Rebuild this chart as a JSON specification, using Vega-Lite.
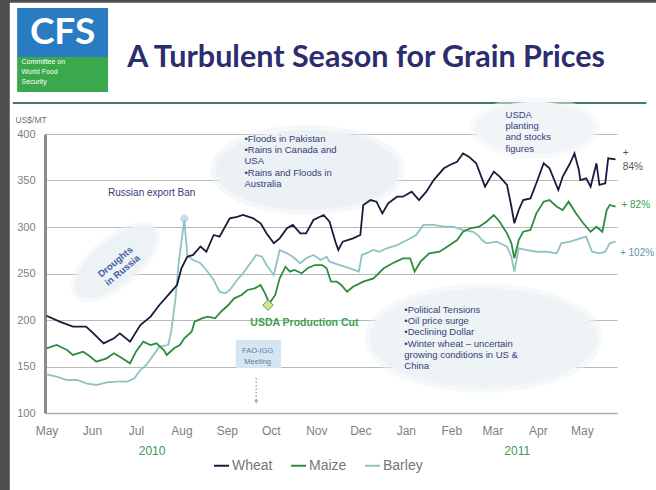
{
  "$schema": "https://vega.github.io/schema/vega-lite/v6.json",
  "width": 572,
  "height": 279,
  "autosize": {"type": "none"},
  "padding": {"left": 45, "top": 134, "right": 39, "bottom": 77},
  "background": "white",
  "config": {"view": {"stroke": null}, "font": "Liberation Sans"},
  "datasets": {
    "prices": [
      {"grain": "Barley", "date": "2010-05-01", "value": 141.6},
      {"grain": "Barley", "date": "2010-05-08", "value": 139},
      {"grain": "Barley", "date": "2010-05-15", "value": 135.5},
      {"grain": "Barley", "date": "2010-05-22", "value": 135.5},
      {"grain": "Barley", "date": "2010-05-28", "value": 131.9},
      {"grain": "Barley", "date": "2010-06-04", "value": 130.1},
      {"grain": "Barley", "date": "2010-06-11", "value": 133},
      {"grain": "Barley", "date": "2010-06-18", "value": 133.7},
      {"grain": "Barley", "date": "2010-06-25", "value": 133.7},
      {"grain": "Barley", "date": "2010-06-30", "value": 137.3},
      {"grain": "Barley", "date": "2010-07-04", "value": 146.2},
      {"grain": "Barley", "date": "2010-07-08", "value": 151.6},
      {"grain": "Barley", "date": "2010-07-13", "value": 162.4},
      {"grain": "Barley", "date": "2010-07-17", "value": 171.3},
      {"grain": "Barley", "date": "2010-07-23", "value": 173.1},
      {"grain": "Barley", "date": "2010-07-25", "value": 187.4},
      {"grain": "Barley", "date": "2010-07-28", "value": 223.3},
      {"grain": "Barley", "date": "2010-07-30", "value": 259.1},
      {"grain": "Barley", "date": "2010-08-01", "value": 284.2},
      {"grain": "Barley", "date": "2010-08-03", "value": 307.5},
      {"grain": "Barley", "date": "2010-08-05", "value": 270},
      {"grain": "Barley", "date": "2010-08-06", "value": 268},
      {"grain": "Barley", "date": "2010-08-09", "value": 264.5},
      {"grain": "Barley", "date": "2010-08-14", "value": 261},
      {"grain": "Barley", "date": "2010-08-18", "value": 253.8},
      {"grain": "Barley", "date": "2010-08-23", "value": 243},
      {"grain": "Barley", "date": "2010-08-27", "value": 230.4},
      {"grain": "Barley", "date": "2010-08-31", "value": 228.7},
      {"grain": "Barley", "date": "2010-09-03", "value": 232.3},
      {"grain": "Barley", "date": "2010-09-08", "value": 243},
      {"grain": "Barley", "date": "2010-09-12", "value": 250.2},
      {"grain": "Barley", "date": "2010-09-17", "value": 261},
      {"grain": "Barley", "date": "2010-09-21", "value": 269.9},
      {"grain": "Barley", "date": "2010-09-25", "value": 268},
      {"grain": "Barley", "date": "2010-09-28", "value": 259.1},
      {"grain": "Barley", "date": "2010-10-03", "value": 248.4},
      {"grain": "Barley", "date": "2010-10-07", "value": 275.3},
      {"grain": "Barley", "date": "2010-10-12", "value": 271.7},
      {"grain": "Barley", "date": "2010-10-16", "value": 268},
      {"grain": "Barley", "date": "2010-10-21", "value": 261},
      {"grain": "Barley", "date": "2010-10-25", "value": 266.3},
      {"grain": "Barley", "date": "2010-10-30", "value": 269.9},
      {"grain": "Barley", "date": "2010-11-04", "value": 264.5},
      {"grain": "Barley", "date": "2010-11-08", "value": 268},
      {"grain": "Barley", "date": "2010-11-10", "value": 262.7},
      {"grain": "Barley", "date": "2010-11-17", "value": 259.1},
      {"grain": "Barley", "date": "2010-11-24", "value": 255.6},
      {"grain": "Barley", "date": "2010-11-30", "value": 252},
      {"grain": "Barley", "date": "2010-12-02", "value": 269.9},
      {"grain": "Barley", "date": "2010-12-05", "value": 271.7},
      {"grain": "Barley", "date": "2010-12-10", "value": 275.3},
      {"grain": "Barley", "date": "2010-12-14", "value": 273.4},
      {"grain": "Barley", "date": "2010-12-19", "value": 277.1},
      {"grain": "Barley", "date": "2010-12-26", "value": 280.6},
      {"grain": "Barley", "date": "2011-01-02", "value": 286},
      {"grain": "Barley", "date": "2011-01-08", "value": 291.4},
      {"grain": "Barley", "date": "2011-01-13", "value": 302.2},
      {"grain": "Barley", "date": "2011-01-20", "value": 302.2},
      {"grain": "Barley", "date": "2011-01-27", "value": 300.3},
      {"grain": "Barley", "date": "2011-02-02", "value": 300.3},
      {"grain": "Barley", "date": "2011-02-09", "value": 296.8},
      {"grain": "Barley", "date": "2011-02-16", "value": 294.9},
      {"grain": "Barley", "date": "2011-02-19", "value": 291.4},
      {"grain": "Barley", "date": "2011-02-22", "value": 286},
      {"grain": "Barley", "date": "2011-02-25", "value": 282.5},
      {"grain": "Barley", "date": "2011-03-04", "value": 284.2},
      {"grain": "Barley", "date": "2011-03-11", "value": 278.9},
      {"grain": "Barley", "date": "2011-03-14", "value": 268},
      {"grain": "Barley", "date": "2011-03-16", "value": 252},
      {"grain": "Barley", "date": "2011-03-19", "value": 277.1},
      {"grain": "Barley", "date": "2011-03-24", "value": 275.3},
      {"grain": "Barley", "date": "2011-03-31", "value": 273.4},
      {"grain": "Barley", "date": "2011-04-07", "value": 273.4},
      {"grain": "Barley", "date": "2011-04-14", "value": 271.7},
      {"grain": "Barley", "date": "2011-04-17", "value": 282.5},
      {"grain": "Barley", "date": "2011-04-23", "value": 284.2},
      {"grain": "Barley", "date": "2011-04-30", "value": 287.8},
      {"grain": "Barley", "date": "2011-05-04", "value": 289.6},
      {"grain": "Barley", "date": "2011-05-08", "value": 273.4},
      {"grain": "Barley", "date": "2011-05-13", "value": 271.7},
      {"grain": "Barley", "date": "2011-05-17", "value": 273.4},
      {"grain": "Barley", "date": "2011-05-20", "value": 282.5},
      {"grain": "Barley", "date": "2011-05-24", "value": 284.2},
      {"grain": "Maize", "date": "2010-05-01", "value": 169.6},
      {"grain": "Maize", "date": "2010-05-08", "value": 173.1},
      {"grain": "Maize", "date": "2010-05-15", "value": 167.7},
      {"grain": "Maize", "date": "2010-05-19", "value": 162.4},
      {"grain": "Maize", "date": "2010-05-26", "value": 165.9},
      {"grain": "Maize", "date": "2010-05-31", "value": 160.5},
      {"grain": "Maize", "date": "2010-06-04", "value": 155.2},
      {"grain": "Maize", "date": "2010-06-11", "value": 158.8},
      {"grain": "Maize", "date": "2010-06-16", "value": 164.2},
      {"grain": "Maize", "date": "2010-06-20", "value": 160.5},
      {"grain": "Maize", "date": "2010-06-27", "value": 153.4},
      {"grain": "Maize", "date": "2010-07-01", "value": 165.9},
      {"grain": "Maize", "date": "2010-07-06", "value": 176.7},
      {"grain": "Maize", "date": "2010-07-11", "value": 173.1},
      {"grain": "Maize", "date": "2010-07-15", "value": 174.9},
      {"grain": "Maize", "date": "2010-07-20", "value": 167.7},
      {"grain": "Maize", "date": "2010-07-22", "value": 162.4},
      {"grain": "Maize", "date": "2010-07-27", "value": 169.6},
      {"grain": "Maize", "date": "2010-07-31", "value": 173.1},
      {"grain": "Maize", "date": "2010-08-03", "value": 180.3},
      {"grain": "Maize", "date": "2010-08-08", "value": 187.4},
      {"grain": "Maize", "date": "2010-08-10", "value": 198.2},
      {"grain": "Maize", "date": "2010-08-15", "value": 201.8},
      {"grain": "Maize", "date": "2010-08-19", "value": 203.6},
      {"grain": "Maize", "date": "2010-08-24", "value": 201.8},
      {"grain": "Maize", "date": "2010-08-28", "value": 208.9},
      {"grain": "Maize", "date": "2010-09-02", "value": 216.1},
      {"grain": "Maize", "date": "2010-09-06", "value": 223.3},
      {"grain": "Maize", "date": "2010-09-11", "value": 226.9},
      {"grain": "Maize", "date": "2010-09-15", "value": 232.3},
      {"grain": "Maize", "date": "2010-09-20", "value": 234.1},
      {"grain": "Maize", "date": "2010-09-24", "value": 237.6},
      {"grain": "Maize", "date": "2010-09-27", "value": 228.7},
      {"grain": "Maize", "date": "2010-09-30", "value": 217.9},
      {"grain": "Maize", "date": "2010-10-04", "value": 226.9},
      {"grain": "Maize", "date": "2010-10-07", "value": 244.8},
      {"grain": "Maize", "date": "2010-10-11", "value": 257.3},
      {"grain": "Maize", "date": "2010-10-14", "value": 252},
      {"grain": "Maize", "date": "2010-10-17", "value": 253.8},
      {"grain": "Maize", "date": "2010-10-22", "value": 250.2},
      {"grain": "Maize", "date": "2010-10-26", "value": 255.6},
      {"grain": "Maize", "date": "2010-10-31", "value": 259.1},
      {"grain": "Maize", "date": "2010-11-05", "value": 259.1},
      {"grain": "Maize", "date": "2010-11-08", "value": 255.6},
      {"grain": "Maize", "date": "2010-11-11", "value": 241.2},
      {"grain": "Maize", "date": "2010-11-15", "value": 241.2},
      {"grain": "Maize", "date": "2010-11-18", "value": 237.6},
      {"grain": "Maize", "date": "2010-11-22", "value": 230.4},
      {"grain": "Maize", "date": "2010-11-26", "value": 235.8},
      {"grain": "Maize", "date": "2010-12-03", "value": 241.2},
      {"grain": "Maize", "date": "2010-12-10", "value": 244.8},
      {"grain": "Maize", "date": "2010-12-17", "value": 255.6},
      {"grain": "Maize", "date": "2010-12-23", "value": 261},
      {"grain": "Maize", "date": "2010-12-30", "value": 266.3},
      {"grain": "Maize", "date": "2011-01-04", "value": 266.3},
      {"grain": "Maize", "date": "2011-01-07", "value": 252},
      {"grain": "Maize", "date": "2011-01-11", "value": 262.7},
      {"grain": "Maize", "date": "2011-01-17", "value": 271.7},
      {"grain": "Maize", "date": "2011-01-24", "value": 273.4},
      {"grain": "Maize", "date": "2011-01-31", "value": 280.6},
      {"grain": "Maize", "date": "2011-02-05", "value": 286},
      {"grain": "Maize", "date": "2011-02-09", "value": 294.9},
      {"grain": "Maize", "date": "2011-02-14", "value": 298.6},
      {"grain": "Maize", "date": "2011-02-20", "value": 300.3},
      {"grain": "Maize", "date": "2011-02-25", "value": 305.7},
      {"grain": "Maize", "date": "2011-03-02", "value": 312.9},
      {"grain": "Maize", "date": "2011-03-06", "value": 305.7},
      {"grain": "Maize", "date": "2011-03-11", "value": 293.2},
      {"grain": "Maize", "date": "2011-03-14", "value": 282.5},
      {"grain": "Maize", "date": "2011-03-16", "value": 266.3},
      {"grain": "Maize", "date": "2011-03-19", "value": 286},
      {"grain": "Maize", "date": "2011-03-22", "value": 294.9},
      {"grain": "Maize", "date": "2011-03-27", "value": 296.8},
      {"grain": "Maize", "date": "2011-03-31", "value": 314.7},
      {"grain": "Maize", "date": "2011-04-05", "value": 327.2},
      {"grain": "Maize", "date": "2011-04-09", "value": 329},
      {"grain": "Maize", "date": "2011-04-14", "value": 321.8},
      {"grain": "Maize", "date": "2011-04-18", "value": 318.3},
      {"grain": "Maize", "date": "2011-04-22", "value": 327.2},
      {"grain": "Maize", "date": "2011-04-27", "value": 314.7},
      {"grain": "Maize", "date": "2011-05-02", "value": 304},
      {"grain": "Maize", "date": "2011-05-07", "value": 294.9},
      {"grain": "Maize", "date": "2011-05-11", "value": 300.3},
      {"grain": "Maize", "date": "2011-05-15", "value": 294.9},
      {"grain": "Maize", "date": "2011-05-18", "value": 318.3},
      {"grain": "Maize", "date": "2011-05-20", "value": 323.7},
      {"grain": "Maize", "date": "2011-05-24", "value": 321.8},
      {"grain": "Wheat", "date": "2010-05-01", "value": 204.6},
      {"grain": "Wheat", "date": "2010-05-10", "value": 198.2},
      {"grain": "Wheat", "date": "2010-05-19", "value": 192.8},
      {"grain": "Wheat", "date": "2010-05-28", "value": 192.8},
      {"grain": "Wheat", "date": "2010-06-02", "value": 185.7},
      {"grain": "Wheat", "date": "2010-06-09", "value": 174.9},
      {"grain": "Wheat", "date": "2010-06-16", "value": 180.3},
      {"grain": "Wheat", "date": "2010-06-20", "value": 185.7},
      {"grain": "Wheat", "date": "2010-06-27", "value": 176.7},
      {"grain": "Wheat", "date": "2010-07-04", "value": 194.6},
      {"grain": "Wheat", "date": "2010-07-11", "value": 203.6},
      {"grain": "Wheat", "date": "2010-07-17", "value": 216.1},
      {"grain": "Wheat", "date": "2010-07-24", "value": 228.7},
      {"grain": "Wheat", "date": "2010-07-29", "value": 237.6},
      {"grain": "Wheat", "date": "2010-08-01", "value": 255.5},
      {"grain": "Wheat", "date": "2010-08-05", "value": 268},
      {"grain": "Wheat", "date": "2010-08-09", "value": 270},
      {"grain": "Wheat", "date": "2010-08-14", "value": 279},
      {"grain": "Wheat", "date": "2010-08-18", "value": 273.4},
      {"grain": "Wheat", "date": "2010-08-23", "value": 291.4},
      {"grain": "Wheat", "date": "2010-08-27", "value": 289.6},
      {"grain": "Wheat", "date": "2010-09-03", "value": 309.3},
      {"grain": "Wheat", "date": "2010-09-08", "value": 311},
      {"grain": "Wheat", "date": "2010-09-12", "value": 312.9},
      {"grain": "Wheat", "date": "2010-09-19", "value": 309.3},
      {"grain": "Wheat", "date": "2010-09-24", "value": 304},
      {"grain": "Wheat", "date": "2010-09-28", "value": 293.2},
      {"grain": "Wheat", "date": "2010-10-03", "value": 282.5},
      {"grain": "Wheat", "date": "2010-10-07", "value": 287.8},
      {"grain": "Wheat", "date": "2010-10-12", "value": 298.6},
      {"grain": "Wheat", "date": "2010-10-16", "value": 302.2},
      {"grain": "Wheat", "date": "2010-10-21", "value": 293.2},
      {"grain": "Wheat", "date": "2010-10-25", "value": 293.2},
      {"grain": "Wheat", "date": "2010-10-30", "value": 307.5},
      {"grain": "Wheat", "date": "2010-11-06", "value": 312.9},
      {"grain": "Wheat", "date": "2010-11-10", "value": 305.7},
      {"grain": "Wheat", "date": "2010-11-14", "value": 284.2},
      {"grain": "Wheat", "date": "2010-11-16", "value": 275.3},
      {"grain": "Wheat", "date": "2010-11-19", "value": 284.2},
      {"grain": "Wheat", "date": "2010-11-26", "value": 287.8},
      {"grain": "Wheat", "date": "2010-12-01", "value": 291.4},
      {"grain": "Wheat", "date": "2010-12-03", "value": 323.7},
      {"grain": "Wheat", "date": "2010-12-08", "value": 329},
      {"grain": "Wheat", "date": "2010-12-12", "value": 327.2},
      {"grain": "Wheat", "date": "2010-12-16", "value": 314.7},
      {"grain": "Wheat", "date": "2010-12-20", "value": 325.5},
      {"grain": "Wheat", "date": "2010-12-26", "value": 332.6},
      {"grain": "Wheat", "date": "2010-12-30", "value": 332.6},
      {"grain": "Wheat", "date": "2011-01-05", "value": 338},
      {"grain": "Wheat", "date": "2011-01-10", "value": 329},
      {"grain": "Wheat", "date": "2011-01-15", "value": 338},
      {"grain": "Wheat", "date": "2011-01-20", "value": 350.5},
      {"grain": "Wheat", "date": "2011-01-27", "value": 363.1},
      {"grain": "Wheat", "date": "2011-01-31", "value": 366.7},
      {"grain": "Wheat", "date": "2011-02-05", "value": 370.2},
      {"grain": "Wheat", "date": "2011-02-09", "value": 379.2},
      {"grain": "Wheat", "date": "2011-02-13", "value": 375.6},
      {"grain": "Wheat", "date": "2011-02-18", "value": 368.5},
      {"grain": "Wheat", "date": "2011-02-24", "value": 343.4},
      {"grain": "Wheat", "date": "2011-03-02", "value": 359.5},
      {"grain": "Wheat", "date": "2011-03-06", "value": 354.1},
      {"grain": "Wheat", "date": "2011-03-11", "value": 345.2},
      {"grain": "Wheat", "date": "2011-03-14", "value": 321.8},
      {"grain": "Wheat", "date": "2011-03-16", "value": 304},
      {"grain": "Wheat", "date": "2011-03-19", "value": 318.3},
      {"grain": "Wheat", "date": "2011-03-22", "value": 329},
      {"grain": "Wheat", "date": "2011-03-27", "value": 330.8},
      {"grain": "Wheat", "date": "2011-03-31", "value": 347},
      {"grain": "Wheat", "date": "2011-04-05", "value": 368.5},
      {"grain": "Wheat", "date": "2011-04-09", "value": 363.1},
      {"grain": "Wheat", "date": "2011-04-15", "value": 339.8},
      {"grain": "Wheat", "date": "2011-04-18", "value": 354.1},
      {"grain": "Wheat", "date": "2011-04-23", "value": 368.5},
      {"grain": "Wheat", "date": "2011-04-26", "value": 379.2},
      {"grain": "Wheat", "date": "2011-04-29", "value": 361.3},
      {"grain": "Wheat", "date": "2011-04-30", "value": 350.5},
      {"grain": "Wheat", "date": "2011-05-04", "value": 352.3},
      {"grain": "Wheat", "date": "2011-05-07", "value": 343.4},
      {"grain": "Wheat", "date": "2011-05-11", "value": 368.5},
      {"grain": "Wheat", "date": "2011-05-13", "value": 345.2},
      {"grain": "Wheat", "date": "2011-05-17", "value": 347},
      {"grain": "Wheat", "date": "2011-05-19", "value": 373.9},
      {"grain": "Wheat", "date": "2011-05-24", "value": 372.8}
    ]
  },
  "encoding": {
    "x": {
      "field": "date",
      "type": "temporal",
      "scale": {
        "type": "utc",
        "domain": [
          {"year": 2010, "month": "apr", "date": 30, "utc": true},
          {"year": 2011, "month": "may", "date": 25, "utc": true}
        ]
      },
      "axis": {
        "title": null,
        "labelExpr": "utcFormat(datum.value, '%b')",
        "tickCount": {"interval": "month", "step": 1},
        "ticks": false,
        "grid": false,
        "labelFlush": false,
        "labelOverlap": false,
        "labelPadding": 12,
        "labelFontSize": 12,
        "labelColor": "#808080",
        "domainColor": "#b0b0b0",
        "domainWidth": 1.5
      }
    },
    "y": {
      "field": "value",
      "type": "quantitative",
      "scale": {"domain": [100, 400], "nice": false, "zero": false},
      "axis": {
        "title": "US$/MT",
        "titleAngle": 0,
        "titleX": -30,
        "titleY": -15,
        "titleAlign": "left",
        "titleBaseline": "middle",
        "titleFontSize": 8.5,
        "titleFontWeight": "normal",
        "titleColor": "#707070",
        "values": [100, 150, 200, 250, 300, 350, 400],
        "ticks": false,
        "labelPadding": 10,
        "labelFontSize": 11,
        "labelColor": "#808080",
        "gridColor": "#b8b8b8",
        "domainColor": "#8c8c8c",
        "domainWidth": 3
      }
    }
  },
  "layer": [
    {
      "data": {"values": [
        {"date": "2010-01-01", "date2": "2010-04-06", "value": -300, "value2": 900},
        {"date": "2010-01-01", "date2": "2011-09-01", "value": 541, "value2": 900}
      ]},
      "mark": {"type": "rect", "fill": "#4f4f4f", "clip": false},
      "encoding": {"x2": {"field": "date2"}, "y2": {"field": "value2"}}
    },
    {
      "data": {"values": [{"date": "2010-04-11", "date2": "2010-06-12", "value": 482.8, "value2": 535.5}]},
      "mark": {"type": "rect", "fill": "#2a7cc2", "clip": false},
      "encoding": {"x2": {"field": "date2"}, "y2": {"field": "value2"}}
    },
    {
      "data": {"values": [{"date": "2010-04-11", "date2": "2010-06-12", "value": 445.2, "value2": 482.8}]},
      "mark": {"type": "rect", "fill": "#3aa94b", "clip": false},
      "encoding": {"x2": {"field": "date2"}, "y2": {"field": "value2"}}
    },
    {
      "data": {"values": [{"date": "2010-04-08", "date2": "2011-06-14", "value": 433.3}]},
      "mark": {"type": "rule", "stroke": "#3f7f5a", "strokeWidth": 2, "clip": false},
      "encoding": {"x2": {"field": "date2"}}
    },
    {
      "data": {"values": [{"date": "2010-06-25", "value": 481.7, "label": "A Turbulent Season for Grain Prices"}]},
      "mark": {"type": "text", "align": "left", "baseline": "middle", "font": "Lato", "fontSize": 30.5, "fontWeight": "bold", "fill": "#2b2d6e", "clip": false},
      "encoding": {"text": {"field": "label"}}
    },
    {
      "data": {"values": [{"date": "2010-05-12", "value": 508.6, "label": "CFS"}]},
      "mark": {"type": "text", "align": "center", "baseline": "middle", "font": "Lato", "fontSize": 37, "fontWeight": "bold", "fill": "white", "clip": false},
      "encoding": {"text": {"field": "label"}}
    },
    {
      "data": {"values": [{"date": "2010-04-14", "value": 475.3, "label": "Committee on\nWorld Food\nSecurity"}]},
      "mark": {"type": "text", "align": "left", "baseline": "alphabetic", "fontSize": 7, "lineHeight": 10, "lineBreak": "\n", "fill": "white", "clip": false},
      "encoding": {"text": {"field": "label"}}
    },
    {
      "data": {"values": [
        {"date": "2010-10-26", "value": 361.3}
      ]},
      "mark": {"type": "point", "shape": "M -1 0 A 1 0.435 0 1 0 1 0 A 1 0.435 0 1 0 -1 0 Z", "size": 33856, "filled": true, "fill": "#ebf1f4", "stroke": "#ebf1f4", "strokeOpacity": 0.5, "strokeWidth": 10, "opacity": 1, "clip": false}
    },
    {
      "data": {"values": [
        {"date": "2011-03-30", "value": 406.5}
      ]},
      "mark": {"type": "point", "shape": "M -1 0 A 1 0.435 0 1 0 1 0 A 1 0.435 0 1 0 -1 0 Z", "size": 14400, "filled": true, "fill": "#f1f5f7", "stroke": "#f1f5f7", "strokeOpacity": 0.5, "strokeWidth": 10, "opacity": 1, "clip": false}
    },
    {
      "data": {"values": [
        {"date": "2011-02-23", "value": 180.6}
      ]},
      "mark": {"type": "point", "shape": "M -1 0 A 1 0.435 0 1 0 1 0 A 1 0.435 0 1 0 -1 0 Z", "size": 51984, "filled": true, "fill": "#eef3f6", "stroke": "#eef3f6", "strokeOpacity": 0.5, "strokeWidth": 10, "opacity": 1, "clip": false}
    },
    {
      "data": {"values": [
        {"date": "2010-06-17", "value": 262.4}
      ]},
      "mark": {"type": "point", "shape": "M -1 0 A 1 0.435 0 1 0 1 0 A 1 0.435 0 1 0 -1 0 Z", "size": 10000, "angle": 320, "filled": true, "fill": "#edf2f5", "stroke": "#edf2f5", "strokeOpacity": 0.5, "strokeWidth": 8, "opacity": 1, "clip": false}
    },
    {
      "data": {"values": [{"date": "2010-09-07", "date2": "2010-10-08", "value": 148.4, "value2": 178.5}]},
      "mark": {"type": "rect", "fill": "#d5e6f2", "clip": false},
      "encoding": {"x2": {"field": "date2"}, "y2": {"field": "value2"}}
    },
    {
      "data": {"values": [{"date": "2010-08-03", "value": 309}]},
      "mark": {"type": "point", "shape": "circle", "size": 70, "filled": true, "fill": "#c3dde8", "opacity": 0.9, "clip": false}
    },
    {
      "data": {"name": "prices"},
      "mark": {"type": "line", "strokeWidth": 1.8, "clip": false},
      "encoding": {
        "color": {
          "field": "grain",
          "type": "nominal",
          "scale": {"domain": ["Wheat", "Maize", "Barley"], "range": ["#1c1a3c", "#2e8b3f", "#8ec3c3"]},
          "legend": {
            "orient": "none",
            "legendX": 168,
            "legendY": 323,
            "direction": "horizontal",
            "title": null,
            "symbolType": "stroke",
            "symbolSize": 225,
            "symbolStrokeWidth": 2,
            "labelFontSize": 14,
            "labelColor": "#777777",
            "labelOffset": 2,
            "columnPadding": 14
          }
        },
        "order": {"field": "date", "type": "temporal"}
      }
    },
    {
      "data": {"values": [{"date": "2010-09-29", "value": 216}]},
      "mark": {"type": "point", "shape": "diamond", "size": 110, "filled": true, "fill": "#d4e597", "stroke": "#5a9f4a", "strokeWidth": 1, "opacity": 1, "clip": false}
    },
    {
      "data": {"values": [{"date": "2010-09-21", "value": 137.6, "value2": 114}]},
      "mark": {"type": "rule", "stroke": "#a8a8a8", "strokeWidth": 1.5, "strokeDash": [1.5, 2], "clip": false},
      "encoding": {"y2": {"field": "value2"}}
    },
    {
      "data": {"values": [{"date": "2010-09-21", "value": 112}]},
      "mark": {"type": "point", "shape": "triangle-down", "size": 18, "filled": true, "fill": "#b0b0b0", "opacity": 1, "clip": false}
    },
    {
      "data": {"values": [
        {"date": "2010-09-13", "value": 391.4, "label": "•Floods in Pakistan\n•Rains in Canada and\nUSA\n•Rains and Floods in\nAustralia"},
        {"date": "2010-12-31", "value": 207.5, "label": "•Political Tensions\n•Oil price surge\n•Declining Dollar\n•Winter wheat – uncertain\ngrowing conditions in US &\nChina"},
        {"date": "2011-03-10", "value": 417.2, "label": "USDA\nplanting\nand stocks\nfigures"}
      ]},
      "mark": {"type": "text", "align": "left", "baseline": "alphabetic", "fontSize": 9.5, "lineHeight": 11.2, "lineBreak": "\n", "fill": "#34407a", "clip": false},
      "encoding": {"text": {"field": "label"}}
    },
    {
      "data": {"values": [{"date": "2010-06-12", "value": 336.6, "label": "Russian export Ban"}]},
      "mark": {"type": "text", "align": "left", "baseline": "middle", "fontSize": 10, "fill": "#34407a", "clip": false},
      "encoding": {"text": {"field": "label"}}
    },
    {
      "data": {"values": [{"date": "2010-06-17", "value": 262.4, "label": "Droughts\nin Russia"}]},
      "mark": {"type": "text", "align": "center", "baseline": "middle", "angle": 320, "fontSize": 9.5, "fontWeight": "bold", "lineHeight": 11, "lineBreak": "\n", "fill": "#3d5fa6", "clip": false},
      "encoding": {"text": {"field": "label"}}
    },
    {
      "data": {"values": [{"date": "2010-09-17", "value": 196.8, "label": "USDA Production Cut"}]},
      "mark": {"type": "text", "align": "left", "baseline": "middle", "fontSize": 10.5, "fontWeight": "bold", "fill": "#3aa050", "clip": false},
      "encoding": {"text": {"field": "label"}}
    },
    {
      "data": {"values": [{"date": "2010-09-22", "value": 164.5, "label": "FAO-IGG\nMeeting"}]},
      "mark": {"type": "text", "align": "center", "baseline": "alphabetic", "fontSize": 7.5, "lineHeight": 11, "lineBreak": "\n", "fill": "#5b7fa0", "clip": false},
      "encoding": {"text": {"field": "label"}}
    },
    {
      "data": {"values": [
        {"date": "2011-05-29", "value": 379.6, "label": "+"},
        {"date": "2011-05-29", "value": 364.5, "label": "84%"}
      ]},
      "mark": {"type": "text", "align": "left", "baseline": "middle", "fontSize": 10, "fill": "#555555", "clip": false},
      "encoding": {"text": {"field": "label"}}
    },
    {
      "data": {"values": [{"date": "2011-05-28", "value": 323.7, "label": "+ 82%"}]},
      "mark": {"type": "text", "align": "left", "baseline": "middle", "fontSize": 10, "fill": "#3aa050", "clip": false},
      "encoding": {"text": {"field": "label"}}
    },
    {
      "data": {"values": [{"date": "2011-05-27", "value": 272, "label": "+ 102%"}]},
      "mark": {"type": "text", "align": "left", "baseline": "middle", "fontSize": 10, "fill": "#5e97a5", "clip": false},
      "encoding": {"text": {"field": "label"}}
    },
    {
      "data": {"values": [
        {"date": "2010-07-12", "value": 59.1, "label": "2010"},
        {"date": "2011-03-18", "value": 59.1, "label": "2011"}
      ]},
      "mark": {"type": "text", "align": "center", "baseline": "middle", "fontSize": 12, "fill": "#3a9a5a", "clip": false},
      "encoding": {"text": {"field": "label"}}
    }
  ]
}
